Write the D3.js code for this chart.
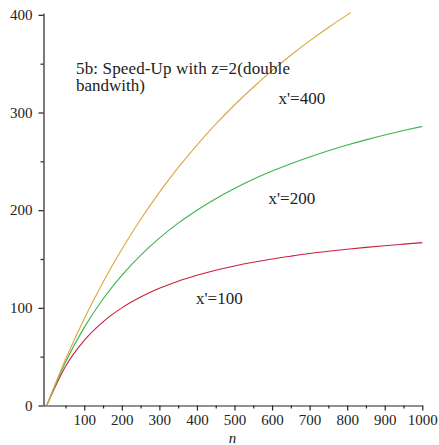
<!DOCTYPE html>
<html>
<head>
<meta charset="utf-8">
<script src="https://cdn.jsdelivr.net/npm/d3@7"></script>
<style>
  body { margin: 0; background: #fff; }
  svg { display: block; }
  .axis path, .axis line { stroke: #222; stroke-width: 1.2; }
  .axis text { font-size: 15px; fill: #222; }
</style>
</head>
<body>
<svg width="439" height="445"></svg>
<script>
var serif = "'Liberation Serif', 'Times New Roman', 'DejaVu Serif', serif";

// n values (x axis)
var nValues = [0, 50, 100, 150, 200, 250, 300, 350, 400, 450, 500, 550, 600, 650, 700, 750, 800, 850, 900, 950, 1000];
var nOrange = [0, 50, 100, 150, 200, 250, 300, 350, 400, 450, 500, 550, 600, 650, 700, 750, 800, 810];

// speed-up curves
var speed100 = [0, 40.0, 66.7, 85.7, 100.0, 111.1, 120.0, 127.3, 133.3, 138.5, 142.9, 146.7, 150.0, 152.9, 155.6, 157.9, 160.0, 161.9, 163.6, 165.2, 166.8];
var speed200 = [0, 44.4, 80.0, 109.1, 133.3, 153.8, 171.4, 186.7, 200.0, 211.8, 222.2, 231.6, 240.0, 247.6, 254.5, 260.9, 266.7, 272.0, 276.9, 281.5, 285.8];
var speed400 = [0, 47.1, 88.9, 126.3, 160.0, 190.5, 218.2, 243.5, 266.7, 288.0, 307.7, 325.9, 342.9, 358.6, 373.3, 387.1, 400.0, 402.5];

var seriesNames = ["x'=100", "x'=200", "x'=400"];

// ticks
var xMajor = [100, 200, 300, 400, 500, 600, 700, 800, 900, 1000];
var xMinor = [50, 150, 250, 350, 450, 550, 650, 750, 850, 950];
var yMajor = [0, 100, 200, 300, 400];
var yMinor = [50, 150, 250, 350];

var titleLines = ["5b: Speed-Up with z=2(double", "bandwith)"];

var svg = d3.select("svg");

var x = d3.scaleLinear().domain([-8.5, 1000]).range([43.5, 422.3]);
var y = d3.scaleLinear().domain([0, 402]).range([405.5, 12.9]);

// x axis
svg.append("g")
  .attr("class", "axis")
  .attr("transform", "translate(0," + y(0) + ")")
  .call(d3.axisBottom(x).tickValues(xMajor).tickSize(5).tickSizeOuter(0).tickPadding(4).tickFormat(d3.format("d")));
svg.append("g")
  .attr("class", "axis")
  .attr("transform", "translate(0," + y(0) + ")")
  .call(d3.axisBottom(x).tickValues(xMinor).tickSize(3).tickSizeOuter(0).tickFormat(""))
  .select(".domain").remove();

// y axis
svg.append("g")
  .attr("class", "axis")
  .attr("transform", "translate(" + x(-8.5) + ",0)")
  .call(d3.axisLeft(y).tickValues(yMajor).tickSize(5).tickSizeOuter(0).tickPadding(6));
svg.append("g")
  .attr("class", "axis")
  .attr("transform", "translate(" + x(-8.5) + ",0)")
  .call(d3.axisLeft(y).tickValues(yMinor).tickSize(3).tickSizeOuter(0).tickFormat(""))
  .select(".domain").remove();

svg.selectAll(".axis").attr("font-family", serif).attr("font-size", 15);

// curves
var line = d3.line()
  .x(function(d) { return x(d[0]); })
  .y(function(d) { return y(d[1]); })
  .curve(d3.curveMonotoneX);

var curves = [
  { xs: nValues, ys: speed100, color: "#c8203c" },
  { xs: nValues, ys: speed200, color: "#3cb44a" },
  { xs: nOrange, ys: speed400, color: "#d8a840" }
];

curves.forEach(function(c) {
  svg.append("path")
    .datum(c.xs.map(function(n, i) { return [n, c.ys[i]]; }))
    .attr("fill", "none")
    .attr("stroke", c.color)
    .attr("stroke-width", 1.1)
    .attr("d", line);
});

// title (first line stretched to the width it has in the original)
titleLines.forEach(function(t, i) {
  var txt = svg.append("text")
    .attr("x", 76)
    .attr("y", 73.5 + i * 17.5)
    .attr("font-family", serif)
    .attr("font-size", 17)
    .attr("fill", "#222")
    .text(t);
  if (i == 0) txt.attr("textLength", 214).attr("lengthAdjust", "spacing");
});

// curve labels
var labelPos = [[196, 303.5], [268.5, 204], [278.5, 104]];
labelPos.forEach(function(p, i) {
  svg.append("text")
    .attr("x", p[0])
    .attr("y", p[1])
    .attr("font-family", serif)
    .attr("font-size", 17)
    .attr("fill", "#222")
    .text(seriesNames[i]);
});

// x axis label
svg.append("text")
  .attr("x", 232.5)
  .attr("y", 443)
  .attr("text-anchor", "middle")
  .attr("font-family", serif)
  .attr("font-size", 15)
  .attr("font-style", "italic")
  .attr("fill", "#222")
  .text("n");
</script>
</body>
</html>
